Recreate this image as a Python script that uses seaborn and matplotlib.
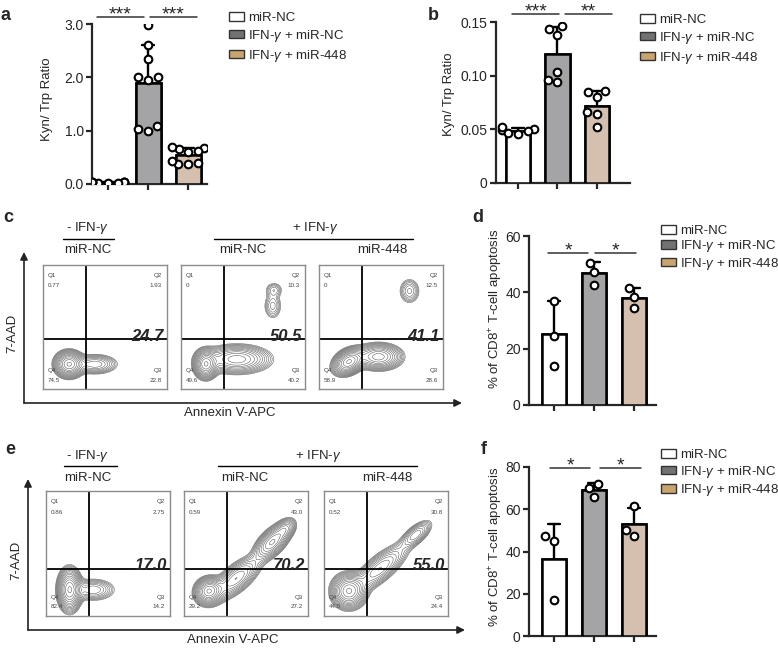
import numpy as np
import pandas as pd
import seaborn as sns
import matplotlib.pyplot as plt
from matplotlib.patches import Patch

# ---- data ----
groups = ['miR-NC', 'IFN-g + miR-NC', 'IFN-g + miR-448']
group_labels = ['miR-NC', 'IFN-$\\gamma$ + miR-NC', 'IFN-$\\gamma$ + miR-448']

a_nc = [0.03, 0.02, 0.04, 0.03, 0.02, 0.03, 0.04, 0.02, 0.03]
a_ifn = [2.98, 2.61, 2.34, 2.00, 1.95, 2.00, 1.09, 1.04, 1.00]
a_448 = [0.60, 0.66, 0.70, 0.68, 0.40, 0.37, 0.37, 0.44, 0.62]

b_nc = [0.049, 0.050, 0.052, 0.048, 0.047, 0.046]
b_ifn = [0.1435, 0.146, 0.138, 0.1036, 0.096, 0.094]
b_448 = [0.085, 0.086, 0.080, 0.066, 0.064, 0.052]

d_nc = [37.1, 24.4, 13.9]
d_ifn = [50.5, 47.3, 42.6]
d_448 = [41.4, 38.4, 34.6]

f_nc = [47.2, 45.0, 17.0]
f_ifn = [70.0, 72.0, 66.0]
f_448 = [61.4, 50.0, 47.2]

a_ticks = [0, 1, 2, 3]
a_ticklabels = ['0.0', '1.0', '2.0', '3.0']
b_ticks = [0, 0.05, 0.10, 0.15]
b_ticklabels = ['0', '0.05', '0.10', '0.15']
d_ticks = [0, 20, 40, 60]
f_ticks = [0, 20, 40, 60, 80]

a_stars = ['***', '***']
b_stars = ['***', '**']
d_stars = ['*', '*']
f_stars = ['*', '*']

# flow plots: quadrant percentages (Q1, Q2, Q4, Q3) and highlighted total
c_quads = [('0.77', '1.93', '74.5', '22.8'), ('0', '10.3', '49.6', '40.2'), ('0', '12.5', '58.9', '28.6')]
c_big = ['24.7', '50.5', '41.1']
e_quads = [('0.86', '2.75', '82.4', '14.2'), ('0.59', '43.0', '29.2', '27.2'), ('0.52', '30.8', '44.5', '24.4')]
e_big = ['17.0', '70.2', '55.0']

# population blobs seen in each contour plot: (x, y, sx, sy, angle, weight) in plot fractions
c_blobs = [
    [(0.21, 0.20, 0.055, 0.05, 0, 1.0), (0.42, 0.20, 0.09, 0.04, 0, 0.3)],
    [(0.20, 0.20, 0.045, 0.055, 0, 1.0), (0.45, 0.24, 0.13, 0.055, 0, 0.6),
     (0.74, 0.67, 0.04, 0.06, 0, 0.15), (0.75, 0.80, 0.04, 0.035, 0, 0.12)],
    [(0.24, 0.22, 0.065, 0.045, 30, 1.0), (0.48, 0.26, 0.09, 0.05, 0, 0.7),
     (0.73, 0.79, 0.045, 0.055, 0, 0.17)],
]
e_blobs = [
    [(0.19, 0.21, 0.045, 0.08, 0, 1.0), (0.38, 0.21, 0.09, 0.045, 0, 0.25)],
    [(0.20, 0.20, 0.055, 0.05, 30, 1.0), (0.42, 0.30, 0.12, 0.05, 40, 0.5),
     (0.71, 0.59, 0.09, 0.045, 45, 0.65), (0.82, 0.70, 0.05, 0.035, 45, 0.25)],
    [(0.20, 0.20, 0.065, 0.065, 0, 1.0), (0.45, 0.38, 0.14, 0.05, 40, 0.4),
     (0.74, 0.65, 0.08, 0.035, 40, 0.3)],
]

bar_colors = ['#ffffff', '#a3a3a8', '#dbbfa9']
legend_colors = ['#ffffff', '#727272', '#c9a46e']

# ---- style ----
sns.set_style('ticks')
plt.rcParams['font.family'] = ['Liberation Sans', 'DejaVu Sans']
plt.rcParams['mathtext.fontset'] = 'custom'
plt.rcParams['mathtext.rm'] = 'Liberation Sans'
plt.rcParams['mathtext.it'] = 'Liberation Sans:italic'

W, H = 778, 648
fig = plt.figure(figsize=(W / 100, H / 100), dpi=100)


def px_axes(l, t, r, b):
    return fig.add_axes([l / W, 1 - b / H, (r - l) / W, (b - t) / H])


# overlay for arrows / headers in pixel coords
ov = fig.add_axes([0, 0, 1, 1])
ov.set_xlim(0, W)
ov.set_ylim(H, 0)
ov.axis('off')


def bar_panel(box, vals, ticks, ticklabels, ylim, xlim, ylabel, lab_xy, stars, sig_y, sig_x):
    ax = px_axes(*box)
    df = pd.DataFrame({'group': np.repeat(groups, [len(v) for v in vals]),
                       'value': np.concatenate(vals)})
    pal = dict(zip(groups, bar_colors))
    sns.barplot(data=df, x='group', y='value', hue='group', palette=pal, order=groups,
                errorbar='sd', capsize=0.3, width=0.62, edgecolor='black', linewidth=1.8,
                err_kws={'color': 'black', 'linewidth': 1.7}, legend=False, ax=ax)
    sns.barplot(data=df, x='group', y='value', hue='group', palette=pal, order=groups,
                errorbar=None, width=0.62, edgecolor='black', linewidth=1.8,
                legend=False, zorder=3, ax=ax)
    sns.swarmplot(data=df, x='group', y='value', order=groups, color='white',
                  edgecolor='black', linewidth=1.5, size=5.5, zorder=4, ax=ax)
    ax.set_xlim(*xlim)
    ax.set_ylim(*ylim)
    ax.set_yticks(ticks)
    ax.set_yticklabels(ticklabels if ticklabels else [str(t) for t in ticks], fontsize=10)
    ax.set_xticks([0, 1, 2])
    ax.set_xticklabels([])
    ax.set_xlabel('')
    ax.set_ylabel(ylabel, fontsize=9.5)
    ax.yaxis.set_label_coords(*lab_xy)
    sns.despine(ax=ax)
    for s in ['left', 'bottom']:
        ax.spines[s].set_linewidth(1.6)
    ax.tick_params(width=1.6, length=4, pad=2)
    for (x0, x1), st in zip(sig_x, stars):
        ax.plot([x0, x1], [sig_y, sig_y], color='#333333', lw=1.1, clip_on=False)
        ax.annotate(st, xy=((x0 + x1) / 2, sig_y), xytext=(0, 1.5), textcoords='offset points',
                    ha='center', va='center', fontsize=14, annotation_clip=False)
    return ax


def add_legend(x, y, spacing):
    handles = [Patch(facecolor=c, edgecolor='#333333', linewidth=1.0) for c in legend_colors]
    fig.legend(handles, group_labels, loc='upper left', bbox_to_anchor=(x / W, 1 - y / H),
               frameon=False, fontsize=9.5, handlelength=1.1, handleheight=0.6,
               handletextpad=0.35, labelspacing=spacing, borderpad=0, borderaxespad=0)


def flow_panel(box, blobs, quads, big, gate_y):
    ax = px_axes(*box)
    gx = np.linspace(0, 1, 240)
    X, Y = np.meshgrid(gx, gx)
    Z = np.zeros_like(X)
    for cx, cy, sx, sy, ang, w in blobs:
        t = np.deg2rad(ang)
        u = (X - cx) * np.cos(t) + (Y - cy) * np.sin(t)
        v = -(X - cx) * np.sin(t) + (Y - cy) * np.cos(t)
        Z += w * np.exp(-(u ** 2 / (2 * sx ** 2) + v ** 2 / (2 * sy ** 2)))
    levels = np.geomspace(0.04, 0.95, 15) * Z.max()
    ax.contour(X, Y, Z, levels=levels, colors='#606060', linewidths=0.4)
    ax.axvline(0.35, color='black', lw=1.3)
    ax.axhline(gate_y, color='black', lw=1.3)
    ax.set_xlim(0, 1)
    ax.set_ylim(0, 1)
    ax.set_xticks([])
    ax.set_yticks([])
    for s in ax.spines.values():
        s.set_color('#8c8c8c')
        s.set_linewidth(1.0)
    q1, q2, q4, q3 = quads
    fs = 4.5
    ax.text(0.04, 0.9, 'Q1', fontsize=fs, color='#444444')
    ax.text(0.04, 0.82, q1, fontsize=fs, color='#444444')
    ax.text(0.96, 0.9, 'Q2', fontsize=fs, ha='right', color='#444444')
    ax.text(0.96, 0.82, q2, fontsize=fs, ha='right', color='#444444')
    ax.text(0.04, 0.14, 'Q4', fontsize=fs, color='#444444')
    ax.text(0.04, 0.06, q4, fontsize=fs, color='#444444')
    ax.text(0.96, 0.14, 'Q3', fontsize=fs, ha='right', color='#444444')
    ax.text(0.96, 0.06, q3, fontsize=fs, ha='right', color='#444444')
    ax.text(0.975, gate_y + 0.02, big, fontsize=12, fontweight='bold', fontstyle='italic',
            ha='right', va='center')


def flow_frame(ax_x, ax_top, ax_y, ax_right, lab_y, lab_x):
    arr = dict(arrowstyle='-|>', color='#222222', lw=1.2, mutation_scale=11, shrinkA=0, shrinkB=0)
    ov.annotate('', xy=(ax_x, ax_top), xytext=(ax_x, ax_y), arrowprops=arr)
    ov.annotate('', xy=(ax_right, ax_y), xytext=(ax_x, ax_y), arrowprops=arr)
    ov.text(ax_x - 12, lab_y, '7-AAD', rotation=90, ha='center', va='center', fontsize=9.5)
    ov.text(lab_x, ax_y + 10, 'Annexin V-APC', ha='center', va='center', fontsize=9.5)


# ---- panel a ----
bar_panel((92, 24, 207, 184), [a_nc, a_ifn, a_448], a_ticks, a_ticklabels, (0, 3.0),
          (-0.4, 2.47), 'Kyn/ Trp Ratio', (-0.34, 0.53), a_stars, 3.13,
          [(-0.28, 0.9), (1.05, 2.22)])
add_legend(229, 12, 0.3)

# ---- panel b ----
bar_panel((496, 22, 630, 183), [b_nc, b_ifn, b_448], b_ticks, b_ticklabels, (0, 0.15),
          (-0.56, 2.84), 'Kyn/ Trp Ratio', (-0.305, 0.55), b_stars, 0.1575,
          [(-0.15, 1.04), (1.19, 2.38)])
add_legend(640, 14, 0.3)

# ---- panel c ----
c_boxes = [(43, 265, 167, 389), (181, 265, 305, 389), (319, 265, 443, 389)]
for bx, bl, q, bg in zip(c_boxes, c_blobs, c_quads, c_big):
    flow_panel(bx, bl, q, bg, 0.4)
flow_frame(24, 252, 403, 462, 333, 230)
ov.text(88, 228, '- IFN-$\\gamma$', ha='center', va='center', fontsize=9.5)
ov.plot([63, 114], [239, 239], color='black', lw=1)
ov.text(88, 250, 'miR-NC', ha='center', va='center', fontsize=9.5)
ov.text(315, 228, '+ IFN-$\\gamma$', ha='center', va='center', fontsize=9.5)
ov.plot([214, 413], [239, 239], color='black', lw=1)
ov.text(243, 250, 'miR-NC', ha='center', va='center', fontsize=9.5)
ov.text(382, 250, 'miR-448', ha='center', va='center', fontsize=9.5)

# ---- panel d ----
bar_panel((529, 236, 656, 405), [d_nc, d_ifn, d_448], d_ticks, None, (0, 60),
          (-0.625, 2.55), '% of CD8$^{+}$ T-cell apoptosis', (-0.19, 0.57), d_stars, 54,
          [(-0.15, 0.85), (1.03, 2.05)])
add_legend(661, 225, 0.1)

# ---- panel e ----
e_boxes = [(46, 491, 170, 616), (184, 491, 308, 616), (324, 491, 448, 616)]
for bx, bl, q, bg in zip(e_boxes, e_blobs, e_quads, e_big):
    flow_panel(bx, bl, q, bg, 0.38)
flow_frame(28, 479, 630, 465, 560, 233)
ov.text(88, 456, '- IFN-$\\gamma$', ha='center', va='center', fontsize=9.5)
ov.plot([64, 117], [466, 466], color='black', lw=1)
ov.text(88, 478, 'miR-NC', ha='center', va='center', fontsize=9.5)
ov.text(318, 456, '+ IFN-$\\gamma$', ha='center', va='center', fontsize=9.5)
ov.plot([218, 417], [466, 466], color='black', lw=1)
ov.text(245, 478, 'miR-NC', ha='center', va='center', fontsize=9.5)
ov.text(387, 478, 'miR-448', ha='center', va='center', fontsize=9.5)

# ---- panel f ----
bar_panel((529, 467, 656, 636), [f_nc, f_ifn, f_448], f_ticks, None, (0, 80),
          (-0.625, 2.55), '% of CD8$^{+}$ T-cell apoptosis', (-0.19, 0.53), f_stars, 79.5,
          [(-0.1, 0.9), (1.15, 2.18)])
add_legend(661, 449, 0.2)

# panel letters
for lt, x, y in [('a', 6, 16), ('b', 433, 15), ('c', 8, 218), ('d', 478, 218),
                 ('e', 10, 450), ('f', 484, 450)]:
    ov.text(x, y, lt, fontsize=13, fontweight='bold', ha='center', va='center')

fig.savefig('out.png', dpi=100)
